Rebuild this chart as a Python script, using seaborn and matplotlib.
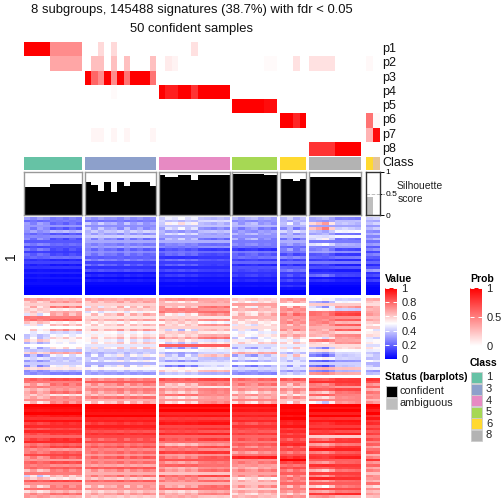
import numpy as np
import matplotlib
matplotlib.use('Agg')
import matplotlib.pyplot as plt
import seaborn as sns
from matplotlib.cm import ScalarMappable
from matplotlib.colors import LinearSegmentedColormap, ListedColormap, Normalize
from matplotlib.patches import Rectangle

# class of each column block, left to right
group_names = ['1', '3', '4', '5', '6', '8', 'amb']
class_colors = {'1': '#66C2A5', '3': '#8DA0CB', '4': '#E78AC3', '5': '#A6D854',
                '6': '#FFD92F', '7': '#E5C494', '8': '#B3B3B3'}
group_classes = [['1'] * 9, ['3'] * 11, ['4'] * 11, ['5'] * 7, ['6'] * 4, ['8'] * 8, ['6', '7']]
group_edges = [(24, 82), (85, 156), (159, 230), (232, 277), (280, 306), (309, 361), (366, 380)]

# membership probabilities, one list per sample row p1..p8
prob_labels = ['p1', 'p2', 'p3', 'p4', 'p5', 'p6', 'p7', 'p8']
prob_g1 = [[1, 1, 1, 1, .45, .45, .45, .45, .45],
           [0, 0, 0, 0, .35, .35, .35, .35, .35],
           [0] * 9, [0] * 9, [0] * 9, [0] * 9, [0] * 9, [0] * 9]
prob_g3 = [[0, 0, .15, 0, .15, 0, 0, 0, 0, 0, 0],
           [0, .25, .25, 0, .25, 0, .25, 0, 0, 0, .25],
           [1, .6, .45, 1, .45, 1, .55, 1, 1, 1, .55],
           [0, 0, 0, 0, .02, 0, 0, 0, 0, 0, 0],
           [0] * 11, [0] * 11,
           [0, .04, .04, 0, .04, 0, .04, 0, 0, 0, .04],
           [0] * 11]
prob_g4 = [[0, 0, 0, 0, 0, .12, 0, 0, 0, 0, 0],
           [0, .08, .05, 0, 0, 0, 0, 0, 0, 0, 0],
           [0] * 11,
           [1, .88, .88, 1, 1, .8, 1, 1, 1, 1, 1],
           [0] * 11, [0] * 11, [0] * 11, [0] * 11]
prob_g5 = [[0] * 7,
           [0, 0, 0, 0, 0, .02, .02],
           [0] * 7, [0] * 7,
           [1, 1, 1, 1, 1, .95, .95],
           [0] * 7, [0] * 7, [0] * 7]
prob_g6 = [[0] * 4, [0, 0, .12, 0], [0] * 4, [0] * 4, [0] * 4,
           [1, 1, .85, 1], [0] * 4, [0] * 4]
prob_g8 = [[0] * 8, [.12, .12, .12, .12, 0, 0, 0, 0], [0] * 8, [0] * 8, [0] * 8, [0] * 8, [0] * 8,
           [.8, .8, .8, .8, 1, 1, 1, 1]]
prob_amb = [[0, 0], [.03, 0], [0, 0], [0, 0], [0, 0], [.55, .03], [.3, .95], [0, 0]]
prob_groups = [prob_g1, prob_g3, prob_g4, prob_g5, prob_g6, prob_g8, prob_amb]

# silhouette score per sample
sil_g1 = [.65, .65, .65, .65, .72, .72, .72, .72, .72]
sil_g3 = [.77, .70, .56, .77, .53, .77, .67, .77, .77, .77, .67]
sil_g4 = [.93, .88, .88, .93, .93, .81, .93, .93, .93, .93, .93]
sil_g5 = [.96, .96, .96, .96, .96, .93, .93]
sil_g6 = [.84, .84, .79, .84]
sil_g8 = [.88, .88, .88, .88, .88, .88, .88, .88]
sil_amb = [.41, 0]
sil_groups = [sil_g1, sil_g3, sil_g4, sil_g5, sil_g6, sil_g8, sil_amb]

# signature block 1, rows read top to bottom per class (percent)
c1_g1 = [28, 22, 26, 30, 24, 32, 20, 27, 22, 17, 24, 15, 20, 12, 18, 20, 9, 13, 6, 10, 4, 7, 3, 5, 2, 3, 1, 0, 0, 0]
c1_g3 = [30, 23, 36, 28, 34, 38, 32, 40, 28, 33, 26, 31, 22, 28, 24, 18, 26, 13, 20, 10, 16, 4, 8, 2, 6, 2, 1, 0, 0, 0]
c1_g4 = [42, 40, 44, 38, 36, 34, 38, 32, 30, 34, 24, 26, 14, 22, 18, 10, 20, 12, 16, 8, 14, 6, 10, 4, 6, 2, 3, 1, 0, 0]
c1_g5 = [34, 28, 32, 36, 26, 30, 33, 28, 30, 24, 26, 22, 10, 24, 18, 22, 12, 20, 8, 16, 14, 10, 12, 6, 8, 3, 4, 1, 0, 0]
c1_g6 = [38, 34, 42, 36, 30, 40, 32, 36, 26, 34, 30, 20, 28, 24, 16, 26, 14, 22, 10, 18, 24, 12, 16, 8, 14, 6, 10, 3, 0, 0]
c1_g8 = [30, 34, 50, 32, 54, 42, 28, 46, 34, 24, 40, 28, 20, 30, 14, 22, 10, 24, 8, 16, 6, 12, 18, 4, 8, 3, 1, 0, 0, 0]
c1_amb = [40, 34, 38, 30, 36, 28, 34, 26, 32, 22, 30, 18, 26, 14, 24, 18, 12, 20, 8, 16, 30, 10, 14, 6, 12, 4, 2, 1, 0, 0]

# signature block 2
c2_g1 = [68, 64, 60, 66, 57, 62, 55, 76, 78, 58, 54, 50, 60, 46, 43, 48, 56, 41, 50, 44, 38, 62, 37, 42, 35, 40, 38, 56, 31, 27]
c2_g3 = [68, 64, 59, 55, 62, 47, 60, 57, 65, 54, 58, 55, 63, 50, 52, 58, 48, 55, 45, 51, 41, 37, 44, 39, 46, 35, 42, 51, 37, 31]
c2_g4 = [70, 61, 64, 68, 73, 76, 61, 57, 68, 54, 64, 59, 52, 57, 61, 71, 50, 47, 82, 43, 48, 37, 50, 41, 35, 46, 33, 50, 59, 37]
c2_g5 = [60, 54, 69, 59, 64, 57, 62, 65, 59, 55, 52, 57, 50, 47, 53, 45, 50, 58, 43, 39, 46, 66, 37, 44, 35, 50, 31, 43, 35, 27]
c2_g6 = [70, 64, 50, 66, 73, 68, 75, 71, 69, 73, 64, 68, 69, 61, 66, 55, 50, 57, 46, 52, 48, 37, 53, 43, 39, 46, 35, 44, 31, 41]
c2_g8 = [46, 41, 60, 53, 45, 80, 82, 73, 78, 69, 76, 66, 74, 61, 69, 59, 72, 64, 57, 45, 52, 37, 31, 46, 25, 41, 29, 64, 31, 69]
c2_amb = [66, 61, 57, 69, 64, 68, 71, 62, 68, 59, 55, 60, 50, 53, 58, 45, 48, 55, 43, 57, 46, 39, 44, 37, 50, 35, 41, 46, 31, 37]

# signature block 3
c3_g1 = [82, 76, 70, 74, 66, 72, 60, 68, 72, 64,
         100, 98, 96, 100, 94, 90, 96, 88, 92, 84,
         92, 86, 80, 88, 92, 78, 84, 72, 78, 86,
         76, 70, 82, 74, 80, 68, 76, 52, 60, 84,
         72, 66, 78, 60, 74, 68]
c3_g3 = [72, 82, 70, 66, 74, 68, 62, 76, 66, 60,
         100, 100, 98, 96, 100, 92, 94, 88, 94, 90,
         84, 90, 86, 80, 86, 76, 82, 74, 78, 70,
         80, 72, 76, 68, 82, 70, 66, 74, 62, 80,
         70, 64, 72, 60, 68, 62]
c3_g4 = [84, 76, 68, 58, 72, 66, 76, 62, 70, 64,
         100, 96, 100, 92, 96, 88, 92, 96, 86, 90,
         84, 92, 80, 86, 78, 66, 82, 74, 88, 70,
         78, 84, 72, 80, 68, 74, 62, 82, 70, 76,
         66, 72, 80, 62, 70, 64]
c3_g5 = [80, 72, 76, 66, 72, 60, 70, 64, 74, 62,
         98, 94, 96, 90, 94, 88, 92, 84, 90, 86,
         82, 88, 80, 84, 76, 82, 74, 80, 70, 78,
         94, 72, 76, 70, 66, 74, 68, 72, 54, 66,
         62, 70, 58, 68, 60, 64]
c3_g6 = [82, 72, 66, 60, 72, 64, 58, 70, 62, 56,
         100, 100, 98, 100, 96, 100, 94, 92, 96, 88,
         92, 86, 90, 82, 88, 92, 80, 86, 76, 84,
         90, 100, 86, 78, 84, 74, 82, 70, 78, 72,
         80, 66, 76, 70, 60, 72]
c3_g8 = [86, 90, 80, 72, 84, 70, 78, 66, 74, 58,
         100, 96, 100, 94, 100, 90, 96, 92, 88, 94,
         86, 92, 60, 84, 90, 72, 86, 94, 78, 88,
         92, 82, 76, 90, 84, 70, 88, 78, 92, 74,
         82, 66, 86, 72, 90, 68]
c3_amb = [90, 84, 72, 80, 66, 78, 70, 74, 64, 72,
          100, 98, 94, 100, 90, 96, 88, 92, 84, 90,
          82, 88, 78, 86, 74, 82, 70, 78, 84, 66,
          76, 90, 72, 80, 68, 76, 62, 74, 70, 66,
          78, 60, 72, 64, 70, 62]

block_rows = [[c1_g1, c1_g3, c1_g4, c1_g5, c1_g6, c1_g8, c1_amb],
              [c2_g1, c2_g3, c2_g4, c2_g5, c2_g6, c2_g8, c2_amb],
              [c3_g1, c3_g3, c3_g4, c3_g5, c3_g6, c3_g8, c3_amb]]
block_spans = [(217, 295), (298, 375), (378, 498)]
block_labels = ['1', '2', '3']

# how much stronger or weaker each sample runs than its class
strength_g1 = [-.04, .01, -.05, -.02, .05, .03, .06, .02, .05]
strength_g3 = [-.03, .02, -.03, .01, 0, .04, -.02, .03, 0, .04, .02]
strength_g4 = [.02, -.04, -.02, -.06, -.01, -.04, .03, .04, .05, .03, .05]
strength_g5 = [-.03, .02, -.02, -.04, .02, 0, .03]
strength_g6 = [.02, -.03, .04, 0]
strength_g8 = [-.03, -.05, -.08, -.02, .05, .04, .05, .06]
strength_amb = [0, -.02]
strength_groups = [strength_g1, strength_g3, strength_g4, strength_g5, strength_g6, strength_g8, strength_amb]

# rows where the sample pattern reads weaker, stronger or flipped
row_turn_1 = [.5, -2, 1.5, -1, 2, -2.5, 1, -1.5, 2.5, -1, .5, -2, 2, -.5, 1.5, -2, 1, -1, 2, -1.5, .5, -1, 1.5, -.5, 1, -1, .5, 0, 0, 0]
row_turn_2 = [-2, 1, -1, 2.5, -2, .5, 2, -1.5, 1, -2.5, 1.5, -1, 2, -2, .5, 1.5, -2.5, 1, -1, 2, -1.5, .5, 2, -2, 1, -1, 2.5, -1.5, .5, -2]
row_turn_3 = [1, -1.5, 2, -2, .5, 1.5, -2.5, 1, -1, 2,
              0, -.5, .5, -1, 1, -1.5, .5, 1.5, -1, .5,
              -2, 1, -1, 2, -1.5, .5, 1.5, -2, 1, -.5,
              2, -1.5, 1, -2, .5, 1.5, -1, 2, -2.5, 1,
              -1, 2, -1.5, .5, 1, -2]
row_turns = [row_turn_1, row_turn_2, row_turn_3]

value_ticks = [0, .2, .4, .6, .8, 1]
prob_ticks = [0, .5, 1]

value_cmap = LinearSegmentedColormap.from_list('value', ['#0000FF', '#FFFFFF', '#FF0000'])
prob_cmap = LinearSegmentedColormap.from_list('prob', ['#FFFFFF', '#FF0000'])

plt.rcParams['font.family'] = ['Liberation Sans', 'DejaVu Sans']
PX = 504.0
fig = plt.figure(figsize=(5.04, 5.04), dpi=100)


def box(x0, y0, x1, y1):
    return fig.add_axes([x0 / PX, 1 - y1 / PX, (x1 - x0) / PX, (y1 - y0) / PX])


def put(x, y, s, **kw):
    fig.text(x / PX, 1 - y / PX, s, **kw)


def bare_heatmap(ax, data, **kw):
    sns.heatmap(data, ax=ax, cbar=False, xticklabels=False, yticklabels=False, **kw)
    ax.set_xlabel('')
    ax.set_ylabel('')


put(192, 10, '8 subgroups, 145488 signatures (38.7%) with fdr < 0.05', ha='center', va='center', fontsize=9.35, color='#111111')
put(192, 29, '50 confident samples', ha='center', va='center', fontsize=9.35, color='#111111')

for g, (x0, x1) in enumerate(group_edges):
    n = len(group_classes[g])

    # probability rows
    ax = box(x0, 42, x1, 156)
    bare_heatmap(ax, np.array(prob_groups[g], dtype=float), cmap=prob_cmap, vmin=0, vmax=1)

    # class strip
    ax = box(x0, 157, x1, 170)
    names = list(class_colors)
    codes = np.array([[names.index(c) for c in group_classes[g]]])
    bare_heatmap(ax, codes, cmap=ListedColormap(list(class_colors.values())), vmin=0, vmax=len(names) - 1)

    # silhouette bars
    ax = box(x0, 172, x1, 215)
    is_amb = group_names[g] == 'amb'
    sns.barplot(x=list(range(n)), y=sil_groups[g], ax=ax, width=1, saturation=1,
                color='#BEBEBE' if is_amb else 'black')
    ax.set_xlim(-.5, n - .5)
    ax.set_ylim(0, 1)
    ax.set_xticks([])
    ax.set_yticks([])
    for s in ax.spines.values():
        s.set_color('#333333' if is_amb else '#999999')
        s.set_linewidth(1)
    if is_amb:
        ax.set_yticks([0, .5, 1])
        ax.set_yticklabels(['0', '0.5', '1'], fontsize=6)
        ax.yaxis.tick_right()
        ax.tick_params(axis='y', length=3, width=.7, pad=1)
        ax.plot([0, 1.25], [.5, .5], transform=ax.transAxes, clip_on=False, color='#BBBBBB', lw=.7, ls='--')

    # signature blocks
    for b, (y0, y1) in enumerate(block_spans):
        base = np.array(block_rows[b][g], dtype=float) / 100
        turn = 1 + np.array(row_turns[b])[:, None]
        push = np.array(strength_groups[g]) * (-1 if b == 0 else 1)
        cells = base[:, None] + turn * push[None, :] * (1 - np.abs(2 * base[:, None] - 1))
        ax = box(x0, y0, x1, y1)
        bare_heatmap(ax, np.clip(cells, 0, 1), cmap=value_cmap, vmin=0, vmax=1)

for i, name in enumerate(prob_labels):
    put(382, 42 + 14.25 * (i + .5), name, va='center', fontsize=9, color='#111111')
put(382, 163.5, 'Class', va='center', fontsize=9, color='#111111')
put(397, 186, 'Silhouette', va='center', fontsize=7.5, color='#222222')
put(398, 199, 'score', va='center', fontsize=7.5, color='#222222')

for label, (y0, y1) in zip(block_labels, block_spans):
    put(11, (y0 + y1) / 2, label, rotation=90, ha='center', va='center', fontsize=10, color='#111111')


def legend_bar(x0, y0, x1, y1, cmap, ticks):
    cax = box(x0, y0, x1, y1)
    cb = fig.colorbar(ScalarMappable(Normalize(0, 1), cmap), cax=cax, ticks=ticks)
    cb.outline.set_visible(False)
    cb.set_ticklabels([f'{t:g}' for t in ticks])
    cax.tick_params(axis='y', direction='in', left=True, right=True, color='white', width=.7,
                    length=3, labelsize=8, pad=3, labelcolor='#222222')


put(385, 279, 'Value', va='center', fontsize=7.5, fontweight='bold')
legend_bar(385, 288, 397, 359, value_cmap, value_ticks)
put(470, 279, 'Prob', va='center', fontsize=7.5, fontweight='bold')
legend_bar(470, 288, 482, 346, prob_cmap, prob_ticks)

# status and class keys share one overlay in pixel coordinates
overlay = fig.add_axes([0, 0, 1, 1])
overlay.set_xlim(0, PX)
overlay.set_ylim(PX, 0)
overlay.axis('off')
overlay.patch.set_alpha(0)

put(385, 377, 'Status (barplots)', va='center', fontsize=7.5, fontweight='bold')
status_labels = ['confident', 'ambiguous']
status_colors = ['black', '#BEBEBE']
for i, (name, col) in enumerate(zip(status_labels, status_colors)):
    overlay.add_patch(Rectangle((385.5, 385.5 + 12 * i), 11, 11, fc=col, ec='#CCCCCC', lw=.6))
    put(400, 391 + 12 * i, name, va='center', fontsize=7.8, color='#222222')

put(470, 363, 'Class', va='center', fontsize=7.5, fontweight='bold')
legend_classes = ['1', '3', '4', '5', '6', '8']
for i, name in enumerate(legend_classes):
    overlay.add_patch(Rectangle((471, 372 + 11.6 * i), 10.5, 11, fc=class_colors[name], ec='#CCCCCC', lw=.6))
    put(486, 377.5 + 11.6 * i, name, va='center', fontsize=8, color='#222222')

fig.savefig('out.png', dpi=100)
